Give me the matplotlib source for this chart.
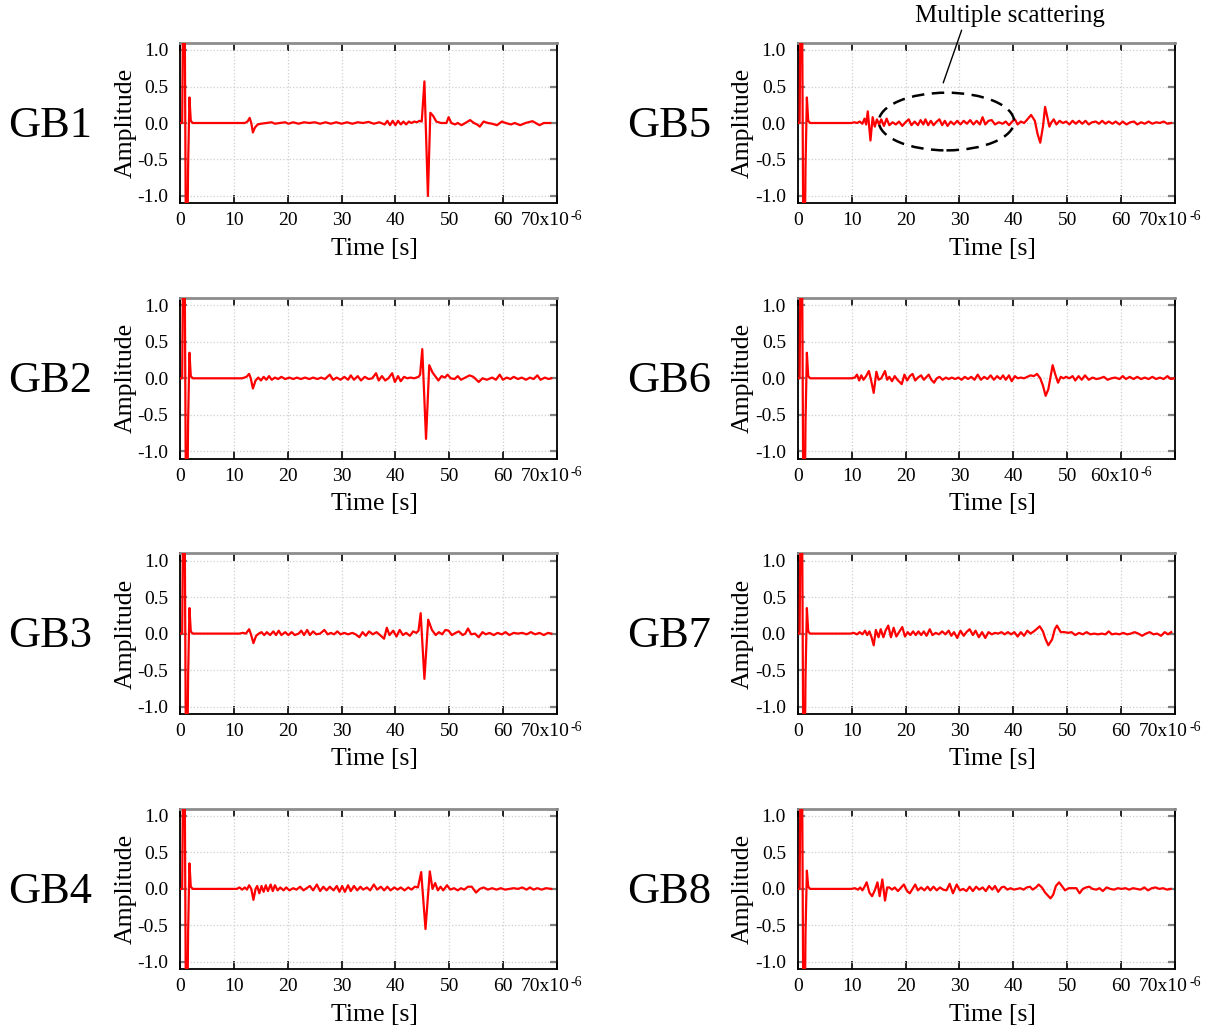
import matplotlib
matplotlib.use('Agg')
import matplotlib.pyplot as plt
from matplotlib.patches import Ellipse
from matplotlib.transforms import offset_copy

plt.rcParams['font.family'] = ['Liberation Serif', 'DejaVu Serif']
plt.rcParams['axes.unicode_minus'] = False

# excitation burst at the start of every record (time in us, amplitude)
head_t = [0.0, 0.35, 0.55, 0.8, 1.05, 1.3, 1.45, 1.7, 1.95, 2.3]
head_a = [0.0, 0.0, 1.8, 1.8, -1.8, -1.8, -0.6, None, 0.03, 0.0]
bump_peak = {'GB1': 0.35, 'GB2': 0.35, 'GB3': 0.35, 'GB4': 0.35,
             'GB5': 0.35, 'GB6': 0.35, 'GB7': 0.35, 'GB8': 0.25}

# rest of each record: (time [us], amplitude)
gb1 = [(9.0, 0.0), (12.0, 0.0), (12.5, 0.02), (12.9, 0.07), (13.2, 0.0), (13.5, -0.13), (13.9, -0.06),
       (14.4, -0.02), (15.0, -0.01), (16.0, 0.0), (17.0, 0.01), (17.6, -0.01), (18.5, 0.0), (19.5, 0.01),
       (20.1, -0.01), (21.0, 0.01), (22.0, -0.01), (23.0, 0.01), (24.0, 0.0), (25.0, 0.01), (26.0, -0.01),
       (27.0, 0.01), (28.0, -0.01), (29.0, 0.01), (30.0, -0.01), (31.0, 0.01), (32.0, -0.01), (33.0, 0.01),
       (34.0, 0.0), (35.0, 0.015), (36.0, -0.01), (37.0, 0.01), (38.0, -0.02), (38.5, 0.03), (39.0, -0.03),
       (39.5, 0.03), (40.0, -0.03), (40.5, 0.03), (41.0, -0.02), (41.5, 0.02), (42.0, -0.02), (42.5, 0.02),
       (43.0, 0.0), (43.5, 0.02), (44.0, 0.01), (44.5, 0.03), (44.9, 0.02), (45.4, 0.57), (46.05, -1.0),
       (46.5, 0.14), (47.0, 0.1), (47.6, 0.02), (48.5, 0.0), (49.5, 0.0), (49.9, 0.08), (50.4, 0.0),
       (51.1, -0.02), (51.6, 0.0), (52.3, -0.03), (53.0, 0.0), (53.9, 0.04), (54.6, 0.0), (55.2, -0.02),
       (55.7, -0.05), (56.4, 0.02), (57.2, 0.0), (58.0, -0.01), (58.9, -0.03), (59.8, 0.02), (60.5, 0.0),
       (61.5, -0.02), (62.2, 0.0), (63.2, -0.03), (64.2, 0.0), (65.5, 0.025), (66.8, -0.03), (67.6, 0.0),
       (68.8, 0.0)]

gb2 = [(9.0, 0.0), (11.5, 0.0), (12.3, 0.02), (12.8, 0.06), (13.1, 0.0), (13.5, -0.14), (14.0, -0.03),
       (14.5, 0.01), (15.0, -0.03), (15.5, 0.02), (16.0, -0.02), (16.5, 0.03), (17.0, -0.02), (17.6, 0.01),
       (18.2, -0.01), (18.8, 0.02), (19.5, -0.01), (20.3, 0.01), (21.0, -0.01), (21.7, 0.01), (22.4, -0.01),
       (23.2, 0.01), (24.0, -0.01), (24.7, 0.01), (25.5, -0.01), (26.2, 0.01), (26.9, -0.01), (27.8, 0.05),
       (28.4, -0.02), (29.1, 0.01), (29.8, -0.02), (30.5, 0.02), (31.2, -0.02), (31.7, 0.04), (32.3, -0.02),
       (33.0, 0.03), (33.6, -0.03), (34.3, 0.02), (35.0, -0.01), (35.7, 0.0), (36.4, 0.07), (36.9, -0.03),
       (37.5, 0.03), (38.1, -0.03), (38.7, 0.0), (39.4, 0.07), (39.9, -0.05), (40.5, 0.03), (41.0, -0.04),
       (41.6, 0.02), (42.2, 0.0), (42.8, 0.01), (43.5, 0.0), (44.3, 0.02), (44.6, 0.05), (45.0, 0.4),
       (45.7, -0.83), (46.3, 0.18), (46.9, 0.08), (47.5, 0.02), (48.0, -0.03), (48.6, 0.03), (49.2, 0.01),
       (49.7, 0.05), (50.3, 0.0), (51.0, -0.01), (51.6, 0.03), (52.2, -0.02), (53.0, 0.01), (53.8, 0.04),
       (54.5, 0.02), (55.5, -0.05), (56.2, 0.0), (57.0, -0.02), (58.0, 0.01), (58.7, -0.02), (59.4, 0.05),
       (60.0, -0.02), (60.7, 0.01), (61.4, -0.01), (62.0, 0.02), (62.8, -0.01), (63.5, 0.01), (64.3, -0.02),
       (65.0, 0.01), (65.7, -0.01), (66.4, 0.04), (67.0, -0.02), (67.8, 0.01), (68.5, -0.01), (69.0, 0.0)]

gb3 = [(9.0, 0.0), (11.0, 0.0), (11.6, 0.01), (12.2, 0.0), (12.8, 0.06), (13.1, 0.0), (13.6, -0.13),
       (14.1, -0.03), (14.6, 0.0), (15.1, 0.02), (15.6, -0.02), (16.1, 0.02), (16.7, -0.02), (17.3, 0.03),
       (17.8, -0.02), (18.3, 0.04), (18.8, -0.02), (19.5, 0.02), (20.1, -0.02), (20.7, 0.02), (21.3, -0.02),
       (22.0, 0.0), (22.5, 0.04), (23.0, -0.02), (23.6, 0.05), (24.1, -0.02), (24.7, 0.03), (25.3, -0.01),
       (26.0, 0.0), (26.8, 0.05), (27.4, -0.01), (28.0, 0.01), (28.6, -0.01), (29.2, 0.03), (29.8, -0.01),
       (30.5, 0.01), (31.2, -0.01), (32.0, 0.01), (32.6, -0.01), (33.3, -0.05), (33.9, 0.02), (34.5, -0.03),
       (35.1, 0.03), (35.8, -0.01), (36.5, 0.02), (37.3, -0.03), (37.9, -0.07), (38.4, 0.08), (38.9, -0.02),
       (39.6, 0.04), (40.2, -0.04), (40.8, 0.05), (41.4, -0.02), (42.0, 0.01), (42.7, -0.03), (43.3, 0.03),
       (43.9, 0.01), (44.3, 0.04), (44.7, 0.28), (45.4, -0.62), (46.1, 0.19), (46.8, 0.05), (47.5, -0.02),
       (48.1, 0.02), (48.7, -0.01), (49.3, 0.05), (49.9, 0.04), (50.5, -0.02), (51.2, 0.01), (51.8, 0.03),
       (52.5, -0.02), (53.0, 0.0), (53.5, 0.07), (54.1, -0.01), (54.8, 0.0), (55.5, -0.05), (56.2, 0.02),
       (56.8, -0.01), (57.5, 0.01), (58.3, -0.02), (59.0, 0.01), (59.8, -0.01), (60.5, 0.02), (61.2, -0.02),
       (62.0, 0.01), (62.8, 0.0), (63.6, 0.01), (64.4, -0.01), (65.2, 0.02), (66.0, -0.01), (66.8, 0.01),
       (67.6, -0.02), (68.4, 0.01), (69.0, 0.0)]

gb4 = [(9.0, 0.0), (10.5, 0.0), (11.0, 0.02), (11.5, -0.01), (12.0, 0.02), (12.4, -0.01), (12.8, 0.05),
       (13.2, 0.0), (13.6, -0.15), (14.0, 0.0), (14.3, 0.04), (14.7, -0.06), (15.1, 0.04), (15.5, -0.04),
       (15.9, 0.05), (16.3, -0.03), (16.8, 0.06), (17.2, -0.03), (17.6, 0.05), (18.1, -0.02), (18.6, 0.02),
       (19.2, -0.02), (19.7, 0.02), (20.3, -0.02), (21.0, 0.01), (21.6, -0.01), (22.3, 0.03), (22.9, -0.02),
       (23.5, 0.01), (24.1, 0.04), (24.7, -0.02), (25.4, 0.06), (26.0, -0.03), (26.6, 0.03), (27.2, -0.02),
       (27.8, 0.03), (28.5, -0.02), (29.1, 0.04), (29.6, -0.04), (30.1, 0.04), (30.6, -0.04), (31.2, 0.05),
       (31.7, -0.03), (32.3, 0.04), (32.9, -0.02), (33.5, 0.03), (34.0, -0.01), (34.7, 0.02), (35.3, -0.02),
       (36.0, 0.06), (36.6, -0.01), (37.3, 0.03), (37.9, -0.02), (38.5, 0.03), (39.1, -0.02), (39.8, 0.02),
       (40.4, -0.01), (41.0, 0.02), (41.7, -0.02), (42.4, 0.02), (43.0, -0.01), (43.6, 0.03), (44.2, 0.02),
       (44.8, 0.23), (45.6, -0.55), (46.4, 0.24), (46.9, 0.0), (47.4, 0.08), (47.9, -0.02), (48.4, 0.03),
       (48.9, -0.02), (49.6, 0.05), (50.2, -0.01), (50.9, 0.01), (51.6, -0.02), (52.2, 0.01), (52.8, -0.01),
       (53.5, 0.03), (54.2, 0.03), (55.0, -0.05), (55.7, 0.0), (56.4, 0.02), (57.2, -0.01), (58.0, 0.01),
       (58.8, -0.01), (59.6, 0.01), (60.4, -0.01), (61.2, 0.0), (62.0, 0.01), (62.8, 0.0), (63.6, 0.02),
       (64.4, -0.01), (65.0, 0.02), (65.7, -0.01), (66.4, 0.01), (67.2, -0.01), (68.0, 0.01), (69.0, 0.0)]

gb5 = [(9.0, 0.0), (10.0, 0.0), (10.5, 0.01), (11.0, 0.0), (11.5, 0.02), (12.0, -0.01), (12.4, 0.06),
       (12.7, -0.02), (13.0, 0.16), (13.5, -0.24), (13.9, 0.08), (14.3, -0.05), (14.7, 0.05), (15.1, -0.02),
       (15.5, 0.05), (16.0, -0.04), (16.5, 0.06), (17.0, -0.03), (17.6, 0.01), (18.2, -0.02), (18.8, 0.02),
       (19.4, -0.04), (20.0, 0.01), (20.6, 0.05), (21.1, -0.03), (21.7, 0.02), (22.3, -0.03), (22.8, 0.04),
       (23.3, -0.02), (23.7, 0.05), (24.2, -0.03), (24.7, 0.03), (25.2, -0.03), (25.8, 0.02), (26.3, 0.05),
       (26.8, -0.03), (27.3, 0.03), (27.8, -0.04), (28.4, 0.02), (29.0, -0.02), (29.6, 0.03), (30.2, -0.02),
       (30.8, 0.03), (31.4, -0.01), (32.0, 0.04), (32.6, -0.02), (33.2, 0.03), (33.8, -0.02), (34.3, 0.08),
       (34.8, -0.02), (35.4, 0.03), (36.0, 0.04), (36.6, -0.02), (37.3, 0.01), (38.0, -0.01), (38.6, 0.02),
       (39.2, -0.03), (39.8, 0.02), (40.3, 0.05), (40.8, -0.02), (41.4, 0.02), (42.0, 0.0), (42.5, 0.04),
       (43.3, 0.11), (44.0, 0.03), (44.5, -0.15), (45.0, -0.27), (45.5, -0.05), (45.9, 0.22), (46.7, -0.05),
       (47.0, 0.0), (47.5, 0.05), (48.0, -0.02), (48.6, 0.03), (49.2, 0.0), (49.8, 0.02), (50.4, -0.02),
       (51.0, 0.03), (51.6, -0.01), (52.2, 0.03), (52.8, -0.01), (53.4, 0.03), (54.0, -0.02), (54.6, 0.01),
       (55.3, 0.02), (55.9, -0.01), (56.5, 0.03), (57.1, -0.01), (57.7, 0.02), (58.4, -0.01), (59.0, 0.02),
       (59.7, -0.02), (60.3, 0.02), (61.0, -0.02), (61.7, 0.01), (62.4, 0.02), (63.0, -0.02), (63.7, 0.01),
       (64.4, -0.01), (65.1, 0.02), (65.8, -0.01), (66.5, 0.01), (67.2, 0.0), (67.9, 0.02), (68.6, -0.01),
       (69.3, 0.0)]

gb6 = [(9.0, 0.0), (10.0, 0.0), (10.6, 0.01), (11.0, 0.05), (11.4, -0.03), (11.8, 0.04), (12.2, -0.02),
       (12.7, 0.03), (13.2, 0.1), (13.6, -0.02), (14.1, -0.2), (14.6, 0.09), (15.0, -0.02), (15.5, 0.0),
       (16.2, 0.1), (16.6, -0.02), (17.0, 0.02), (17.5, -0.04), (18.0, 0.03), (18.5, -0.02), (19.3, -0.08),
       (19.8, 0.05), (20.3, -0.03), (20.8, 0.03), (21.3, 0.06), (21.8, -0.03), (22.3, 0.01), (22.9, 0.04),
       (23.4, -0.02), (24.3, 0.05), (24.8, -0.02), (25.3, -0.06), (25.8, 0.0), (26.3, 0.02), (26.9, -0.02),
       (27.5, 0.01), (28.0, -0.01), (28.6, 0.01), (29.2, -0.01), (29.8, 0.01), (30.4, -0.02), (31.0, 0.02),
       (31.6, -0.01), (32.2, 0.02), (32.8, -0.02), (33.4, 0.05), (34.0, -0.02), (34.6, 0.02), (35.2, -0.01),
       (35.8, 0.04), (36.4, -0.02), (37.0, 0.03), (37.6, -0.01), (38.1, 0.04), (38.6, -0.02), (39.2, 0.04),
       (39.7, -0.04), (40.3, 0.03), (40.8, 0.0), (41.4, 0.01), (42.0, 0.0), (42.6, 0.02), (43.2, 0.04),
       (43.8, 0.03), (44.4, 0.06), (45.0, 0.0), (45.5, -0.1), (46.0, -0.24), (46.5, -0.15), (47.3, 0.18),
       (47.8, 0.05), (48.3, -0.06), (48.8, 0.02), (49.3, 0.0), (49.8, 0.02), (50.4, 0.0), (51.0, 0.03),
       (51.5, -0.03), (52.1, 0.03), (52.7, -0.02), (53.3, 0.04), (54.0, -0.02), (54.7, 0.01), (55.4, -0.01),
       (56.1, 0.0), (56.8, 0.02), (57.5, -0.02), (58.2, 0.0), (58.9, 0.01), (59.7, -0.01), (60.3, 0.03),
       (60.9, -0.01), (61.6, 0.02), (62.3, -0.01), (63.0, 0.02), (63.7, -0.01), (64.4, 0.01), (65.1, -0.01),
       (65.8, 0.02), (66.5, -0.01), (67.2, 0.01), (67.9, -0.01), (68.6, 0.03), (69.2, -0.01), (69.9, 0.0)]

gb7 = [(9.0, 0.0), (9.8, 0.0), (10.4, 0.01), (11.0, -0.01), (11.5, 0.02), (12.0, -0.01), (12.5, 0.04),
       (12.9, -0.02), (13.3, 0.03), (13.7, -0.05), (14.1, -0.16), (14.5, 0.05), (15.0, -0.05), (15.4, 0.06),
       (15.9, -0.05), (16.3, 0.04), (16.8, 0.11), (17.3, -0.05), (17.8, 0.08), (18.3, -0.04), (18.8, 0.02),
       (19.4, 0.09), (19.9, -0.04), (20.4, 0.02), (20.9, -0.02), (21.4, 0.03), (21.9, -0.02), (22.4, 0.03),
       (22.9, -0.02), (23.4, 0.03), (23.9, -0.03), (24.5, 0.06), (25.0, -0.02), (25.6, 0.01), (26.2, -0.01),
       (26.8, 0.03), (27.4, -0.01), (28.0, 0.04), (28.5, -0.03), (29.0, 0.02), (29.6, -0.06), (30.2, 0.04),
       (30.8, -0.03), (31.3, 0.02), (31.9, 0.06), (32.5, -0.02), (33.0, 0.04), (33.6, -0.05), (34.2, 0.02),
       (34.8, -0.06), (35.4, 0.02), (36.0, -0.01), (36.6, 0.01), (37.2, 0.0), (37.8, 0.02), (38.4, -0.01),
       (39.0, 0.02), (39.6, -0.01), (40.2, 0.02), (40.8, -0.04), (41.4, 0.02), (42.0, -0.03), (42.6, 0.04),
       (43.2, 0.0), (43.8, 0.03), (44.3, 0.06), (44.9, 0.1), (45.5, 0.03), (46.0, -0.08), (46.5, -0.16),
       (47.2, -0.08), (47.7, 0.06), (48.1, 0.11), (48.8, 0.02), (49.5, 0.02), (50.2, 0.01), (50.8, 0.02),
       (51.5, -0.02), (52.2, 0.01), (52.9, -0.01), (53.6, 0.02), (54.3, -0.01), (55.0, 0.0), (55.7, -0.01),
       (56.4, 0.0), (57.1, -0.01), (57.7, 0.03), (58.3, -0.01), (59.0, 0.0), (59.7, -0.01), (60.4, 0.01),
       (61.1, -0.01), (61.8, 0.0), (62.5, 0.02), (63.2, 0.0), (63.9, -0.03), (64.6, 0.0), (65.3, 0.02),
       (66.0, -0.01), (66.7, 0.0), (67.4, -0.03), (68.1, 0.02), (68.7, -0.01), (69.3, 0.02)]

gb8 = [(9.0, 0.0), (10.0, 0.0), (10.6, 0.01), (11.2, -0.01), (11.6, 0.02), (12.0, -0.02), (12.4, 0.03),
       (12.8, 0.09), (13.3, -0.05), (13.8, -0.1), (14.3, -0.02), (14.8, 0.09), (15.2, -0.1), (15.7, 0.13),
       (16.2, -0.16), (16.6, 0.02), (17.0, 0.02), (17.5, -0.01), (18.0, 0.02), (18.6, -0.03), (19.2, 0.02),
       (19.7, 0.06), (20.3, -0.03), (20.8, -0.06), (21.3, 0.0), (21.8, 0.06), (22.3, -0.02), (22.9, 0.02),
       (23.5, -0.02), (24.1, 0.03), (24.6, -0.02), (25.2, 0.03), (25.8, -0.02), (26.4, 0.02), (27.0, -0.01),
       (27.6, -0.02), (28.2, 0.07), (28.8, -0.06), (29.5, 0.06), (30.1, -0.02), (30.7, 0.0), (31.3, -0.03),
       (31.9, 0.03), (32.5, -0.03), (33.1, 0.03), (33.7, -0.01), (34.3, 0.02), (34.9, -0.03), (35.5, 0.04),
       (36.1, -0.01), (36.6, 0.04), (37.2, -0.04), (37.8, 0.02), (38.3, 0.03), (38.9, -0.01), (39.5, 0.01),
       (40.1, -0.01), (40.7, 0.0), (41.3, 0.01), (41.9, -0.01), (42.5, 0.02), (43.1, 0.03), (43.6, -0.01),
       (44.2, 0.02), (44.7, 0.06), (45.3, 0.02), (45.9, -0.05), (46.9, -0.13), (47.4, -0.08), (47.9, 0.04),
       (48.5, 0.09), (49.1, 0.03), (49.6, -0.02), (50.3, 0.01), (51.0, 0.01), (51.7, 0.01), (52.3, -0.06),
       (52.9, 0.0), (53.5, 0.02), (54.1, 0.03), (54.7, 0.0), (55.4, -0.01), (56.0, 0.01), (56.6, -0.03),
       (57.3, 0.02), (58.0, 0.0), (58.7, -0.01), (59.4, 0.01), (60.1, 0.0), (60.8, 0.01), (61.5, -0.01),
       (62.2, 0.01), (62.9, 0.0), (63.6, -0.01), (64.3, 0.02), (65.0, -0.02), (65.7, 0.01), (66.4, 0.02),
       (67.1, 0.0), (67.8, 0.01), (68.5, -0.01), (69.2, 0.0)]

records = {'GB1': gb1, 'GB2': gb2, 'GB3': gb3, 'GB4': gb4,
           'GB5': gb5, 'GB6': gb6, 'GB7': gb7, 'GB8': gb8}

x_ticks = [0, 10, 20, 30, 40, 50, 60, 70]
y_ticks = [-1.0, -0.5, 0.0, 0.5, 1.0]
y_ticklabels = ['-1.0', '-0.5', '0.0', '0.5', '1.0']

W, H = 1219, 1033
fig = plt.figure(figsize=(W / 100, H / 100), dpi=100)

col_left = [180.3, 797.7]
col_width = [376.4, 377.3]
row_top = [42.7, 298.0, 553.3, 808.6]
ax_h = 160.6

for i, name in enumerate(records):
    col, row = i // 4, i % 4
    x0 = col_left[col] / W
    y0 = 1 - (row_top[row] + ax_h) / H
    ax = fig.add_axes([x0, y0, col_width[col] / W, ax_h / H])

    t = head_t + [p[0] for p in records[name]]
    a = [bump_peak[name] if v is None else v for v in head_a] + [p[1] for p in records[name]]
    ax.plot(t, a, color='#ff0000', lw=1.6, zorder=3)

    ax.set_xlim(0, 70)
    ax.set_ylim(-1.1, 1.1)
    ax.set_xticks(x_ticks)
    # last label carries the x10^-6 multiplier, drawn by hand below
    last = 60 if name == 'GB6' else 70
    xl = [str(v) if v < last else '' for v in x_ticks]
    ax.set_xticklabels(xl)
    ax.set_yticks(y_ticks)
    ax.set_yticklabels(y_ticklabels)

    ax.set_axisbelow(True)
    ax.grid(True, color='#cfcfcf', linestyle=':', linewidth=0.9)
    ax.tick_params(axis='x', direction='in', length=6, width=1.2, color='black',
                   top=True, labelsize=14, pad=6.5)
    ax.tick_params(axis='y', direction='in', length=5, width=1.6, color='#808080',
                   right=True, labelsize=14, pad=8.5)
    for side in ['left', 'right', 'bottom']:
        ax.spines[side].set_color('black')
        ax.spines[side].set_linewidth(1.3)
    ax.spines['top'].set_color('#8c8c8c')
    ax.spines['top'].set_linewidth(2.0)

    base = ax.get_xaxis_transform()
    shift = 13 if last == 70 else 18
    ax.text(last, 0, f'{last}x10', fontsize=14, ha='right', va='top', clip_on=False,
            transform=offset_copy(base, fig=fig, x=shift, y=-9, units='dots'))
    ax.text(last, 0, '-6', fontsize=10, ha='left', va='top', clip_on=False,
            transform=offset_copy(base, fig=fig, x=shift + 1, y=-7, units='dots'))

    ax.set_xlabel('Time [s]', fontsize=18.5)
    ax.xaxis.set_label_coords(0.517, -0.215)
    ax.set_ylabel('Amplitude', fontsize=18.5)
    ax.yaxis.set_label_coords(-0.116, 0.5)

    zero_px = row_top[row] + 80.6
    fig.text((8 if col == 0 else 627) / W, 1 - (zero_px + 13.4) / H, name,
             fontsize=32, ha='left', va='baseline')

    if name == 'GB5':
        ax.add_patch(Ellipse((27.6, 0.02), 25.1, 0.79, fill=False, edgecolor='black',
                             lw=1.8, linestyle=(0, (5, 3)), zorder=4, clip_on=False))
        ax.annotate('Multiple scattering', xy=(27.0, 0.55), xytext=(39.4, 1.46),
                    ha='center', va='center', fontsize=18, annotation_clip=False,
                    arrowprops=dict(arrowstyle='-', lw=1.0, color='black',
                                    relpos=(0.25, 0.0), shrinkA=0, shrinkB=0))

fig.savefig('out.png', dpi=100)
